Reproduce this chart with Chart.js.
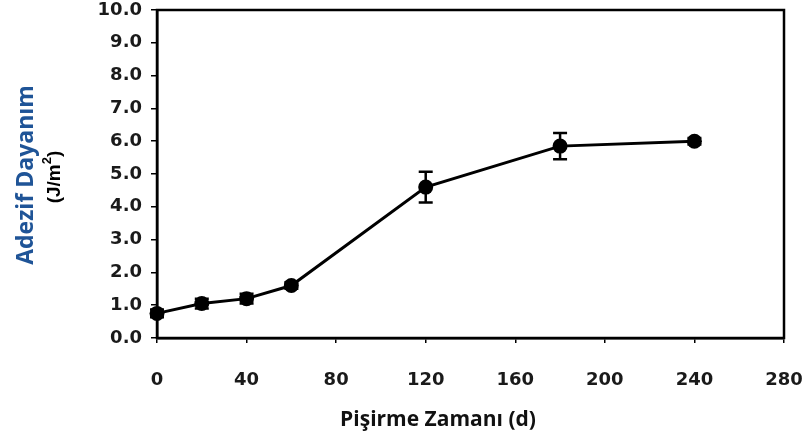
<!DOCTYPE html>
<html>
<head>
<meta charset="utf-8">
<script src="https://cdn.jsdelivr.net/npm/chart.js@4/dist/chart.umd.min.js"></script>
<style>
  html, body { margin: 0; padding: 0; background: #fff; }
  #wrap { width: 808px; height: 439px; position: relative; }
</style>
</head>
<body>
<div id="wrap"><canvas id="chart"></canvas></div>
<script>
// curing time (days) vs adhesive strength (J/m2) with spread
const days = [0, 20, 40, 60, 120, 180, 240];
const strength = [0.75, 1.05, 1.2, 1.6, 4.6, 5.85, 6.0];
const spread = [0.12, 0.15, 0.15, 0.1, 0.47, 0.4, 0.1];
const xTicks = [0, 40, 80, 120, 160, 200, 240, 280];
const yTicks = [0, 1, 2, 3, 4, 5, 6, 7, 8, 9, 10];

const points = days.map((d, i) => ({ x: d, y: strength[i] }));

// box around the plot area (top and right sides aren't axes)
const frame = {
    id: "frame",
    beforeDatasetsDraw(chart) {
        const { ctx, chartArea: a } = chart;
        ctx.save();
        ctx.strokeStyle = "#000";
        ctx.lineWidth = 2.5;
        ctx.strokeRect(a.left, a.top, a.right - a.left, a.bottom - a.top);
        ctx.restore();
    }
};

// vertical error bars with caps
const errorBars = {
    id: "errorBars",
    afterDatasetsDraw(chart) {
        const { ctx, scales } = chart;
        ctx.save();
        ctx.strokeStyle = "#000";
        ctx.lineWidth = 2.5;
        days.forEach((d, i) => {
            const x = scales.x.getPixelForValue(d);
            const top = scales.y.getPixelForValue(strength[i] + spread[i]);
            const bot = scales.y.getPixelForValue(strength[i] - spread[i]);
            ctx.beginPath();
            ctx.moveTo(x, top); ctx.lineTo(x, bot);
            ctx.moveTo(x - 7, top); ctx.lineTo(x + 7, top);
            ctx.moveTo(x - 7, bot); ctx.lineTo(x + 7, bot);
            ctx.stroke();
        });
        ctx.restore();
    }
};

// axis titles: two-colour y title and the x title
const titles = {
    id: "titles",
    afterDraw(chart) {
        const { ctx } = chart;
        ctx.save();
        ctx.textAlign = "center";
        ctx.textBaseline = "middle";

        ctx.fillStyle = "#111";
        ctx.font = "bold 21px 'Open Sans'";
        ctx.fillText("Pişirme Zamanı (d)", 438, 420);

        ctx.translate(26, 175);
        ctx.rotate(-Math.PI / 2);
        ctx.fillStyle = "#1f5497";
        ctx.font = "bold 23px 'Open Sans'";
        ctx.fillText("Adezif Dayanım", 0, 0);
        ctx.restore();

        ctx.save();
        ctx.translate(55, 177);
        ctx.rotate(-Math.PI / 2);
        ctx.fillStyle = "#000";
        ctx.textBaseline = "middle";
        ctx.textAlign = "left";
        const big = "bold 19px 'Liberation Sans'";
        const small = "bold 13px 'Liberation Sans'";
        ctx.font = big;
        const w1 = ctx.measureText("(J/m").width;
        const w3 = ctx.measureText(")").width;
        ctx.font = small;
        const w2 = ctx.measureText("2").width;
        let x = -(w1 + w2 + w3) / 2;
        ctx.font = big;
        ctx.fillText("(J/m", x, 0);
        x += w1;
        ctx.font = small;
        ctx.fillText("2", x, -8);
        x += w2;
        ctx.font = big;
        ctx.fillText(")", x, 0);
        ctx.restore();
    }
};

const tickFont = { family: "'DejaVu Sans'", size: 18, weight: "bold" };

new Chart(document.getElementById("chart"), {
    type: "line",
    data: {
        datasets: [{
            data: points,
            borderColor: "#000",
            borderWidth: 3,
            backgroundColor: "#000",
            pointRadius: 7.5,
            pointHoverRadius: 7.5,
            pointBackgroundColor: "#000",
            pointBorderWidth: 0,
            tension: 0,
            clip: false
        }]
    },
    options: {
        responsive: true,
        maintainAspectRatio: false,
        animation: false,
        events: [],
        layout: { padding: { top: 10, right: 24, left: 0, bottom: 0 } },
        plugins: { legend: { display: false }, tooltip: { enabled: false } },
        scales: {
            x: {
                type: "linear",
                min: 0,
                max: 280,
                afterBuildTicks: s => { s.ticks = xTicks.map(v => ({ value: v })); },
                afterFit: s => { s.height = 101; s.paddingLeft = 0; s.paddingRight = 0; },
                grid: { drawOnChartArea: false, color: "#000", lineWidth: 1.5, tickLength: 5 },
                border: { color: "#000", width: 2.5 },
                ticks: { font: tickFont, color: "#1a1a1a", padding: 27, maxRotation: 0 }
            },
            y: {
                min: 0,
                max: 10,
                afterBuildTicks: s => { s.ticks = yTicks.map(v => ({ value: v })); },
                afterFit: s => { s.width = 157; s.paddingTop = 0; s.paddingBottom = 0; },
                grid: { drawOnChartArea: false, color: "#000", lineWidth: 1.5, tickLength: 6 },
                border: { color: "#000", width: 2.5 },
                ticks: { font: tickFont, color: "#1a1a1a", padding: 9, callback: v => v.toFixed(1) }
            }
        }
    },
    plugins: [frame, errorBars, titles]
});
</script>
</body>
</html>
